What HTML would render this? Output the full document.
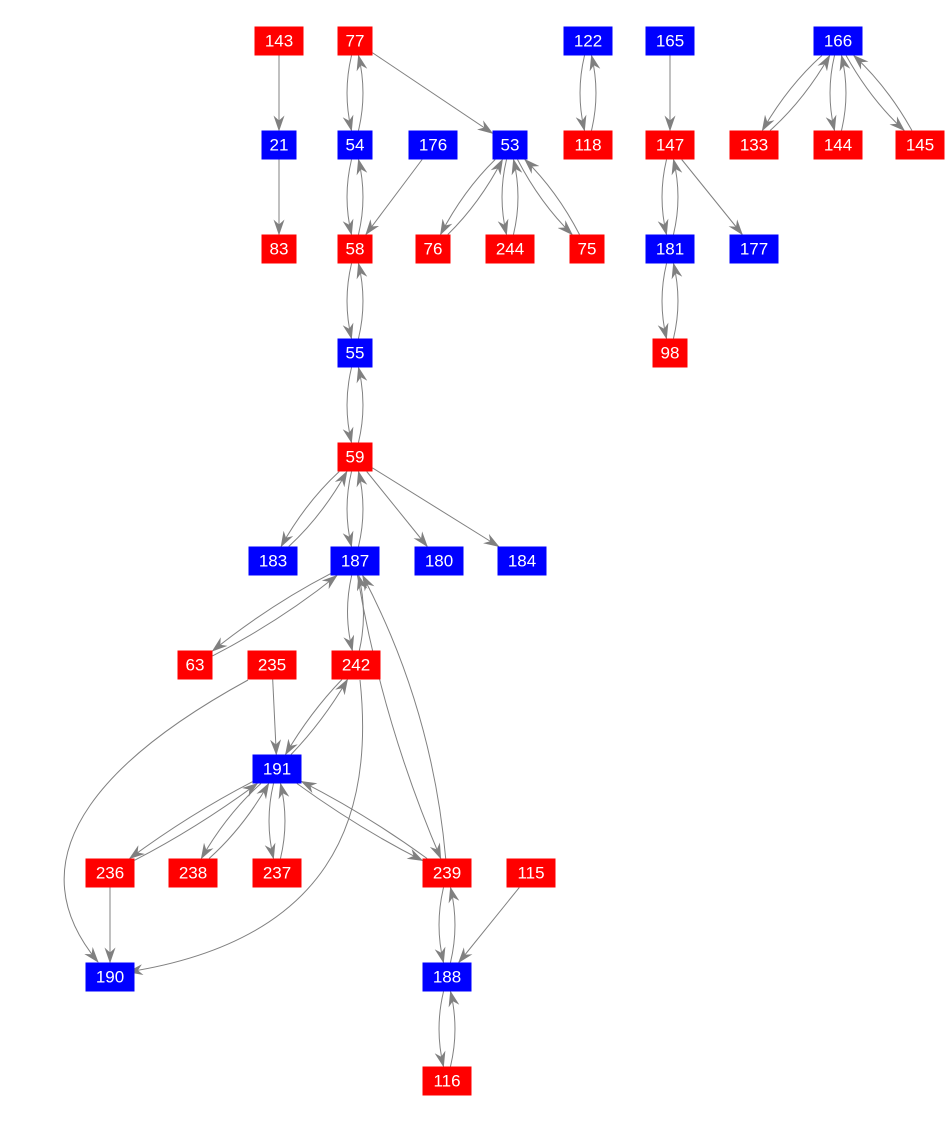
<!DOCTYPE html>
<html><head><meta charset="utf-8"><style>
html,body{margin:0;padding:0;background:#fff;width:952px;height:1121px;overflow:hidden}
svg{display:block}
text{font-family:"Liberation Sans",sans-serif;font-size:17px;fill:#fff;text-anchor:middle;dominant-baseline:central}
</style></head><body>
<svg id="g" width="952" height="1121" xmlns="http://www.w3.org/2000/svg">
<defs><marker id="a" markerWidth="16" markerHeight="11" refX="15" refY="5.5" orient="auto" markerUnits="userSpaceOnUse"><path d="M0,0 L16,5.5 L0,11 L5,5.5 Z" fill="#808080"/></marker></defs>
<g id="e" fill="none" stroke="#808080" stroke-width="1"></g>
<g id="n"></g>
</svg>
<script>
var N={
143:[279,41,'r'],77:[355,41,'r'],122:[588,41,'b'],165:[670,41,'b'],166:[838,41,'b'],
21:[279,145,'b'],54:[355,145,'b'],176:[433,145,'b'],53:[510,145,'b'],118:[588,145,'r'],147:[670,145,'r'],133:[754,145,'r'],144:[838,145,'r'],145:[920,145,'r'],
83:[279,249,'r'],58:[355,249,'r'],76:[433,249,'r'],244:[510,249,'r'],75:[587,249,'r'],181:[670,249,'b'],177:[754,249,'b'],
55:[355,353,'b'],98:[670,353,'r'],59:[355,457,'r'],
183:[273,561,'b'],187:[355,561,'b'],180:[439,561,'b'],184:[522,561,'b'],
63:[195,665,'r'],235:[272,665,'r'],242:[356,665,'r'],191:[277,769,'b'],
236:[110,873,'r'],238:[193,873,'r'],237:[277,873,'r'],239:[447,873,'r'],115:[531,873,'r'],
190:[110,977,'b'],188:[447,977,'b'],116:[447,1081,'r']};
function W(k){return String(k).length>2?49:35}
var H=29;
var E=[[143,21,0],[21,83,0],[77,54,.12],[54,77,.12],[77,53,0],[54,58,.12],[58,54,.12],[176,58,0],
[53,76,.08],[76,53,.08],[53,244,.12],[244,53,.12],[53,75,.08],[75,53,.08],[122,118,.12],[118,122,.12],
[165,147,0],[147,181,.12],[181,147,.12],[147,177,0],[181,98,.12],[98,181,.12],
[166,133,.08],[133,166,.08],[166,144,.12],[144,166,.12],[166,145,.08],[145,166,.08],
[58,55,.12],[55,58,.12],[55,59,.12],[59,55,.12],[59,183,.08],[183,59,.08],[59,187,.12],[187,59,.12],[59,180,0],[59,184,0],
[187,63,.05],[63,187,.05],[187,242,.12],[242,187,.12],[187,239,.06],[239,187,.1],[235,191,0],
[242,191,.06],[191,242,.06],[191,236,.04],[236,191,.04],[191,238,.08],[238,191,.08],[191,237,.12],[237,191,.12],
[191,239,.04],[239,191,.04],[236,190,0],[239,188,.12],[188,239,.12],[115,188,0],[188,116,.12],[116,188,.12]];
function clip(c,t,k){var dx=t[0]-c[0],dy=t[1]-c[1],w=W(k)/2,h=H/2;var s=Math.min(dx?w/Math.abs(dx):1e9,dy?h/Math.abs(dy):1e9);return [c[0]+dx*s,c[1]+dy*s]}
var eg=document.getElementById('e'),ng=document.getElementById('n'),S='http://www.w3.org/2000/svg';
function P(d){var p=document.createElementNS(S,'path');p.setAttribute('d',d);p.setAttribute('marker-end','url(#a)');eg.appendChild(p)}
E.forEach(function(e){var a=N[e[0]],b=N[e[1]],k=e[2];var dx=b[0]-a[0],dy=b[1]-a[1],L=Math.hypot(dx,dy);
var cx=(a[0]+b[0])/2+(dy/L)*k*L*-1,cy=(a[1]+b[1])/2+(dx/L)*k*L;
var p0=clip(a,[cx,cy],e[0]),p1=clip(b,[cx,cy],e[1]);
P('M'+p0[0]+','+p0[1]+' Q'+cx+','+cy+' '+p1[0]+','+p1[1])});
P('M248,680 C120,750 5,850 98,962');
P('M360,680 C375,820 330,940 128,972');
for(var k in N){var n=N[k],w=W(k);var r=document.createElementNS(S,'rect');r.setAttribute('x',n[0]-w/2);r.setAttribute('y',n[1]-H/2);r.setAttribute('width',w);r.setAttribute('height',H);r.setAttribute('fill',n[2]=='r'?'#ff0000':'#0000ff');ng.appendChild(r);
var t=document.createElementNS(S,'text');t.setAttribute('x',n[0]);t.setAttribute('y',n[1]);t.textContent=k;ng.appendChild(t)}
</script>
</body></html>
